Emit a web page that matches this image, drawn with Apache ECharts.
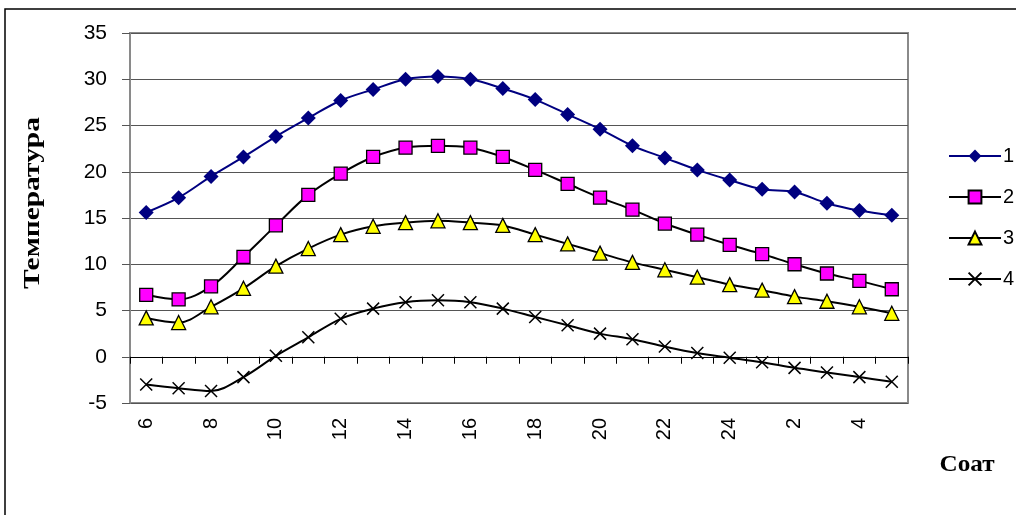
<!DOCTYPE html>
<html>
<head>
<meta charset="utf-8">
<script src="https://cdn.jsdelivr.net/npm/echarts@6/dist/echarts.min.js"></script>
<style>
  html, body { margin: 0; padding: 0; background: #fff; }
  #graph { width: 1016px; height: 515px; }
</style>
</head>
<body>
<div id="graph"></div>
<script>
const hours = ['6', '7', '8', '9', '10', '11', '12', '13', '14', '15', '16', '17', '18', '19', '20', '21', '22', '23', '24', '1', '2', '3', '4', '5']
const seriesNames = ['1', '2', '3', '4']
const temp1 = [15.6, 17.2, 19.5, 21.6, 23.8, 25.8, 27.7, 28.9, 30.0, 30.3, 30.0, 29.0, 27.8, 26.2, 24.6, 22.8, 21.5, 20.2, 19.1, 18.1, 17.8, 16.6, 15.8, 15.3]
const temp2 = [6.7, 6.2, 7.6, 10.8, 14.2, 17.5, 19.8, 21.6, 22.6, 22.8, 22.6, 21.6, 20.2, 18.7, 17.2, 15.9, 14.4, 13.2, 12.1, 11.1, 10.0, 9.0, 8.2, 7.3]
const temp3 = [4.2, 3.7, 5.4, 7.4, 9.8, 11.7, 13.2, 14.1, 14.5, 14.7, 14.5, 14.2, 13.2, 12.2, 11.2, 10.2, 9.4, 8.6, 7.8, 7.2, 6.5, 6.0, 5.4, 4.7]
const temp4 = [-3.0, -3.4, -3.7, -2.2, 0.1, 2.1, 4.1, 5.2, 5.9, 6.1, 5.9, 5.2, 4.3, 3.4, 2.5, 1.9, 1.1, 0.4, -0.1, -0.6, -1.2, -1.7, -2.2, -2.7]

const dom = document.getElementById('graph')
const chart = echarts.init(dom)

const labelFont = 'Liberation Sans, Arial, sans-serif'
const nameFont = 'Liberation Serif, Times New Roman, serif'
const crossPath = 'path://M0 0L10 10M10 0L0 10'

function makeSeries (name, data, opts) {
  return {
    name,
    type: 'line',
    data,
    smooth: 0.35,
    symbol: opts.symbol,
    symbolSize: opts.size,
    lineStyle: { color: opts.line, width: 2 },
    itemStyle: {
      color: opts.fill,
      borderColor: opts.border,
      borderWidth: opts.borderWidth
    },
    emphasis: { disabled: true },
    animation: false
  }
}

const option = {
  backgroundColor: '#fff',
  grid: {
    left: 130,
    right: 108,
    top: 33,
    bottom: 112,
    show: true,
    borderColor: '#8a8a8a',
    borderWidth: 2
  },
  legend: {
    orient: 'vertical',
    left: 943,
    top: 141,
    itemWidth: 52,
    itemHeight: 16,
    itemGap: 21,
    data: seriesNames,
    textStyle: { fontFamily: labelFont, fontSize: 20, lineHeight: 20, color: '#000', padding: [0, 0, 0, -3] }
  },
  xAxis: [{
    type: 'category',
    data: hours,
    boundaryGap: true,
    axisLine: { onZero: true, lineStyle: { color: '#000', width: 1 } },
    axisTick: { show: true, length: 7, interval: 0, lineStyle: { color: '#000' } },
    axisLabel: { show: false },
    splitLine: { show: false }
  }, {
    type: 'category',
    data: hours,
    position: 'bottom',
    boundaryGap: true,
    axisLine: { show: false, onZero: false },
    axisTick: { show: false },
    axisLabel: {
      show: true,
      interval: 1,
      rotate: 90,
      margin: 15,
      fontFamily: labelFont,
      fontSize: 20,
      color: '#000'
    },
    splitLine: { show: false }
  }],
  yAxis: {
    type: 'value',
    min: -5,
    max: 35,
    interval: 5,
    axisLine: { show: true, lineStyle: { color: '#8a8a8a', width: 2 } },
    axisTick: { show: true, length: 8, lineStyle: { color: '#555' } },
    axisLabel: { margin: 23, fontFamily: labelFont, fontSize: 21, color: '#000' },
    splitLine: { show: true, lineStyle: { color: '#555', width: 1 } }
  },
  series: [
    makeSeries(seriesNames[0], temp1, { symbol: 'diamond', size: 15, line: '#000080', fill: '#000080', border: '#000080', borderWidth: 0 }),
    makeSeries(seriesNames[1], temp2, { symbol: 'rect', size: 13, line: '#000', fill: '#ff00ff', border: '#000', borderWidth: 1.3 }),
    makeSeries(seriesNames[2], temp3, { symbol: 'triangle', size: 14, line: '#000', fill: '#ffff00', border: '#000', borderWidth: 1.3 }),
    makeSeries(seriesNames[3], temp4, { symbol: crossPath, size: 12, line: '#000', fill: '#000', border: '#000', borderWidth: 1.5 })
  ],
  graphic: [{
    type: 'rect',
    shape: { x: 5, y: 9, width: 1030, height: 540 },
    style: { fill: 'none', stroke: '#000', lineWidth: 1.5 },
    silent: true
  }, {
    type: 'text',
    x: 33,
    y: 203,
    rotation: Math.PI / 2,
    scaleX: 1.28,
    style: {
      text: 'Температура',
      font: 'bold 23px ' + nameFont,
      fill: '#000',
      align: 'center',
      verticalAlign: 'middle'
    }
  }, {
    type: 'text',
    x: 967,
    y: 465,
    scaleX: 1.05,
    style: {
      text: 'Соат',
      font: 'bold 24px ' + nameFont,
      fill: '#000',
      align: 'center',
      verticalAlign: 'middle'
    }
  }]
}

chart.setOption(option)
</script>
</body>
</html>
